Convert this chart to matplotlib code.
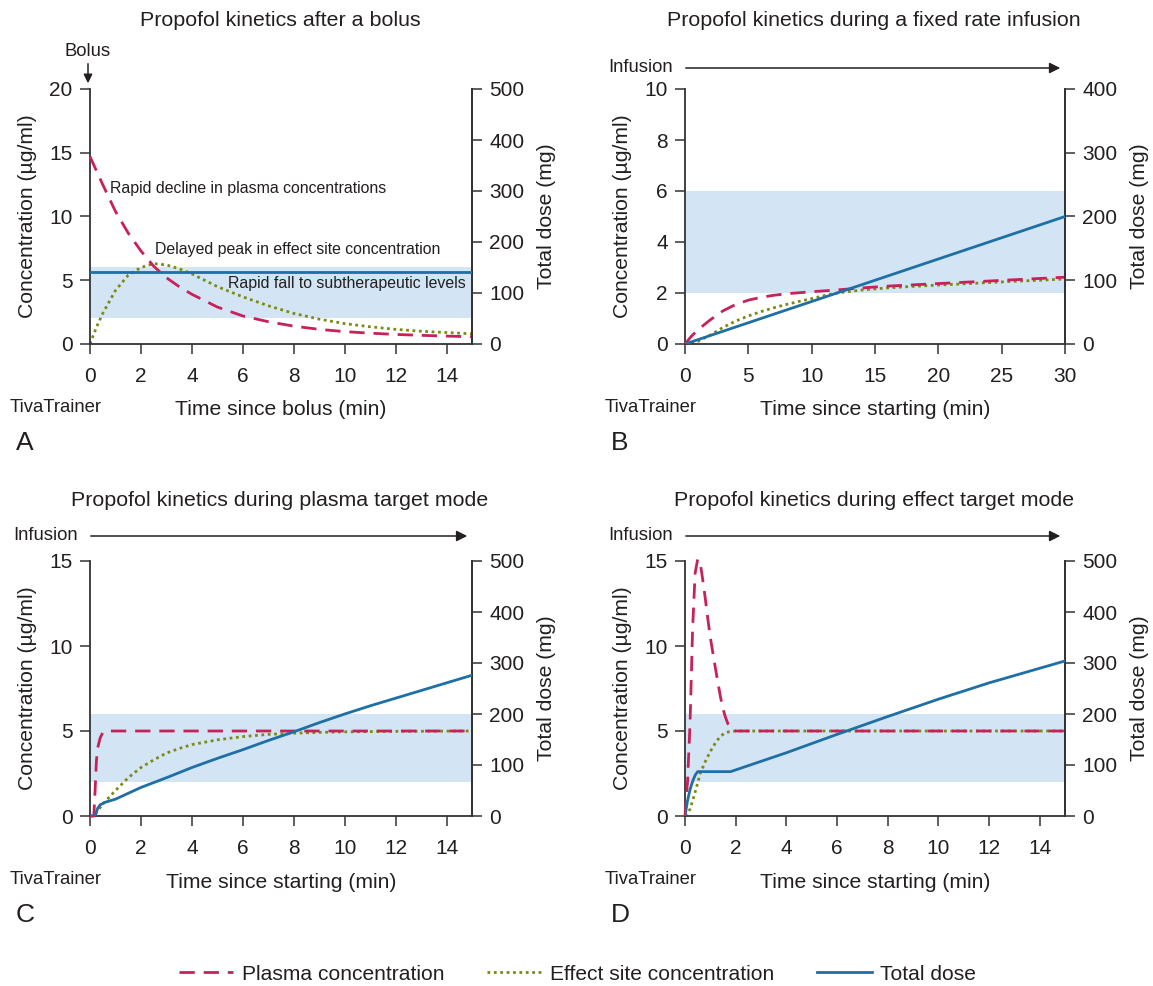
import matplotlib
matplotlib.use("Agg")
import matplotlib.pyplot as plt
from matplotlib.lines import Line2D

plt.rcParams['font.family'] = ['Liberation Sans', 'DejaVu Sans']
TXT = '#231f20'
plt.rcParams['text.color'] = TXT
plt.rcParams['axes.labelcolor'] = TXT
plt.rcParams['xtick.color'] = TXT
plt.rcParams['ytick.color'] = TXT

PLASMA_C = '#c8215a'
EFFECT_C = '#7a8a12'
DOSE_C = '#1d6fa5'
BAND_C = '#d3e4f4'

# ---------------- Panel A: bolus ----------------
a_t_plasma = [0, 0.5, 1, 1.5, 2, 2.5, 3, 3.5, 4, 5, 6, 7, 8, 9, 10, 11, 12, 13, 14, 15]
a_plasma = [14.7, 12.5, 10.4, 8.7, 7.3, 6.1, 5.2, 4.5, 3.9, 2.9, 2.2, 1.75, 1.4, 1.15, 0.97, 0.85, 0.75, 0.68, 0.62, 0.57]
a_t_effect = [0, 0.25, 0.5, 1, 1.5, 2, 2.5, 3, 3.5, 4, 5, 6, 7, 8, 9, 10, 11, 12, 13, 14, 15]
a_effect = [0, 1.3, 2.4, 4.2, 5.4, 6.0, 6.3, 6.2, 5.9, 5.5, 4.5, 3.7, 3.0, 2.4, 1.95, 1.6, 1.35, 1.15, 1.0, 0.9, 0.8]
a_t_dose = [0, 15]
a_dose = [141, 141]

# ---------------- Panel B: fixed rate infusion ----------------
b_t_plasma = [0, 0.5, 1, 2, 3, 4, 5, 6, 7, 8, 10, 12, 14, 16, 18, 20, 22, 24, 26, 28, 30]
b_plasma = [0, 0.3, 0.55, 0.95, 1.3, 1.55, 1.72, 1.83, 1.91, 1.97, 2.05, 2.12, 2.2, 2.27, 2.32, 2.37, 2.42, 2.47, 2.52, 2.57, 2.62]
b_t_effect = [0, 1, 2, 3, 4, 5, 6, 7, 8, 9, 10, 11, 12, 14, 16, 18, 20, 22, 24, 26, 28, 30]
b_effect = [0, 0.1, 0.35, 0.65, 0.9, 1.1, 1.27, 1.42, 1.55, 1.67, 1.78, 1.9, 2.0, 2.12, 2.2, 2.26, 2.31, 2.36, 2.41, 2.46, 2.5, 2.55]
b_t_dose = [0, 30]
b_dose = [0, 200]

# ---------------- Panel C: plasma target mode ----------------
c_t_plasma = [0, 0.15, 0.2, 0.25, 0.3, 0.4, 0.5, 0.7, 1, 15]
c_plasma = [0, 0, 1.5, 3.2, 4.0, 4.6, 4.9, 5.0, 5.0, 5.0]
c_t_effect = [0, 0.15, 0.3, 0.5, 1, 1.5, 2, 2.5, 3, 3.5, 4, 5, 6, 7, 8, 9, 10, 12, 15]
c_effect = [0, 0, 0.3, 0.7, 1.5, 2.25, 2.85, 3.3, 3.7, 3.97, 4.2, 4.48, 4.67, 4.8, 4.87, 4.92, 4.95, 4.98, 5.0]
c_t_dose = [0, 0.2, 0.3, 0.4, 0.6, 1, 2, 3, 4, 5, 6, 7, 8, 9, 10, 11, 12, 13, 14, 15]
c_dose = [0, 0, 15, 22, 27, 33, 56, 75, 95, 113, 130, 148, 165, 183, 200, 216, 231, 246, 261, 276]

# ---------------- Panel D: effect target mode ----------------
d_t_plasma = [0, 0.1, 0.2, 0.3, 0.4, 0.5, 0.6, 0.7, 0.8, 0.9, 1.0, 1.2, 1.4, 1.5, 1.6, 1.7, 1.8, 1.9, 2.0, 15]
d_plasma = [0, 2, 5.5, 11, 14.3, 15.1, 14.9, 13.9, 12.8, 11.6, 10.5, 8.7, 7.0, 6.3, 5.8, 5.4, 5.15, 5.05, 5.0, 5.0]
d_t_effect = [0, 0.2, 0.4, 0.6, 0.8, 1.0, 1.2, 1.4, 1.6, 1.8, 2.0, 15]
d_effect = [0, 0.4, 1.4, 2.5, 3.2, 3.8, 4.3, 4.7, 4.9, 4.98, 5.0, 5.0]
d_t_dose = [0, 0.1, 0.2, 0.3, 0.4, 0.5, 1.8, 4, 6, 8, 10, 12, 15]
d_dose = [0, 30, 52, 68, 80, 87, 87, 124, 160, 195, 229, 261, 304]

band_low, band_high = 2, 6

titles = ['Propofol kinetics after a bolus',
          'Propofol kinetics during a fixed rate infusion',
          'Propofol kinetics during plasma target mode',
          'Propofol kinetics during effect target mode']
xlabels = ['Time since bolus (min)', 'Time since starting (min)',
           'Time since starting (min)', 'Time since starting (min)']
letters = ['A', 'B', 'C', 'D']
legend_labels = ['Plasma concentration', 'Effect site concentration', 'Total dose']

W, H = 1153, 986
fig = plt.figure(figsize=(W / 100, H / 100), dpi=100)

def fx(px):
    return px / W

def fy(py):
    return 1 - py / H

# axes boxes in pixels: left, right, top, bottom
boxes = [(90, 472, 89, 344), (685, 1065, 89, 344), (90, 472, 561, 816), (685, 1065, 561, 816)]

panels = [
    dict(xlim=(0, 15), xt=range(0, 15, 2), ylim=(0, 20), yt=[0, 5, 10, 15, 20], y2=(0, 500), y2t=[0, 100, 200, 300, 400, 500],
         tp=a_t_plasma, p=a_plasma, te=a_t_effect, e=a_effect, td=a_t_dose, d=a_dose),
    dict(xlim=(0, 30), xt=range(0, 31, 5), ylim=(0, 10), yt=[0, 2, 4, 6, 8, 10], y2=(0, 400), y2t=[0, 100, 200, 300, 400],
         tp=b_t_plasma, p=b_plasma, te=b_t_effect, e=b_effect, td=b_t_dose, d=b_dose),
    dict(xlim=(0, 15), xt=range(0, 15, 2), ylim=(0, 15), yt=[0, 5, 10, 15], y2=(0, 500), y2t=[0, 100, 200, 300, 400, 500],
         tp=c_t_plasma, p=c_plasma, te=c_t_effect, e=c_effect, td=c_t_dose, d=c_dose),
    dict(xlim=(0, 15), xt=range(0, 15, 2), ylim=(0, 15), yt=[0, 5, 10, 15], y2=(0, 500), y2t=[0, 100, 200, 300, 400, 500],
         tp=d_t_plasma, p=d_plasma, te=d_t_effect, e=d_effect, td=d_t_dose, d=d_dose),
]

TICK_FS = 15
LABEL_FS = 15.2
TITLE_FS = 15.4
SMALL_FS = 13.3
ANNOT_FS = 11.4
plasma_ls = (0, (5.5, 3.2))
effect_ls = (0, (1, 1.3))
LW = 2.0

for i, (pn, box) in enumerate(zip(panels, boxes)):
    l, r, t, b = box
    ax = fig.add_axes([fx(l), fy(b), fx(r) - fx(l), fy(t) - fy(b)])
    ax.set_facecolor('none')
    ax.set_xlim(*pn['xlim'])
    ax.set_ylim(*pn['ylim'])
    ax.axhspan(band_low, band_high, color=BAND_C, lw=0, zorder=0)
    ax.plot(pn['te'], pn['e'], color=EFFECT_C, lw=LW, ls=effect_ls, zorder=2, clip_on=False)
    ax.plot(pn['tp'], pn['p'], color=PLASMA_C, lw=LW, ls=plasma_ls, zorder=3, clip_on=False)
    ax.set_xticks(list(pn['xt']))
    ax.set_yticks(pn['yt'])
    ax.spines['top'].set_visible(False)
    for s in ['left', 'bottom', 'right']:
        ax.spines[s].set_linewidth(1.3)
        ax.spines[s].set_color('#333333')
    ax.tick_params(axis='both', direction='out', length=7.5, width=1.1, labelsize=TICK_FS, color='#333333')
    ax.tick_params(axis='x', pad=9)
    ax.tick_params(axis='y', pad=5)
    ax.set_ylabel('Concentration (\u00b5g/ml)', fontsize=LABEL_FS, labelpad=9)
    ax.set_xlabel(xlabels[i], fontsize=LABEL_FS, labelpad=10.5)

    ax2 = ax.twinx()
    ax2.set_ylim(*pn['y2'])
    ax2.set_yticks(pn['y2t'])
    ax2.plot(pn['td'], pn['d'], color=DOSE_C, lw=LW, zorder=4)
    for s in ['top', 'left', 'bottom']:
        ax2.spines[s].set_visible(False)
    ax2.spines['right'].set_linewidth(1.3)
    ax2.spines['right'].set_color('#333333')
    ax2.tick_params(axis='y', direction='out', length=7.5, width=1.1, labelsize=TICK_FS, pad=5, color='#333333')
    ax2.set_ylabel('Total dose (mg)', fontsize=LABEL_FS, labelpad=9)

    ty = 20 if i < 2 else 500
    fig.text(fx((l + r) / 2 - 1), fy(ty), titles[i], fontsize=TITLE_FS, ha='center', va='center')
    fig.text(fx(l - 80), fy(b + 63), 'TivaTrainer', fontsize=SMALL_FS, ha='left', va='center')
    fig.text(fx(l - 74), fy(b + 99), letters[i], fontsize=19, ha='left', va='center')

    if i == 0:
        fig.text(fx(l - 26), fy(51), 'Bolus', fontsize=SMALL_FS, ha='left', va='center')
        ax.annotate('', xy=(fx(l - 2), fy(86)), xycoords='figure fraction',
                    xytext=(fx(l - 2), fy(61)), textcoords='figure fraction',
                    arrowprops=dict(arrowstyle='-|>', color=TXT, lw=1.1, mutation_scale=13))
        ax.text(0.79, 12.2, 'Rapid decline in plasma concentrations', fontsize=ANNOT_FS, va='center')
        ax.text(2.55, 7.45, 'Delayed peak in effect site concentration', fontsize=ANNOT_FS, va='center')
        ax.text(5.4, 4.78, 'Rapid fall to subtherapeutic levels', fontsize=ANNOT_FS, va='center')
    else:
        ay = 68 if i == 1 else 536
        fig.text(fx(l - 77), fy(ay), 'Infusion', fontsize=SMALL_FS, ha='left', va='center')
        ax.annotate('', xy=(fx(r - 2), fy(ay)), xycoords='figure fraction',
                    xytext=(fx(l - 2), fy(ay)), textcoords='figure fraction',
                    arrowprops=dict(arrowstyle='-|>', color=TXT, lw=1.1, mutation_scale=16))

handles = [Line2D([], [], color=PLASMA_C, lw=LW, ls=plasma_ls),
           Line2D([], [], color=EFFECT_C, lw=LW, ls=effect_ls),
           Line2D([], [], color=DOSE_C, lw=LW)]
fig.legend(handles, legend_labels,
           loc='center', bbox_to_anchor=(0.5009, fy(974)), ncol=3, frameon=False,
           fontsize=15.1, handlelength=2.6, columnspacing=2.05, handletextpad=0.4)

fig.savefig('out.png', dpi=100)
